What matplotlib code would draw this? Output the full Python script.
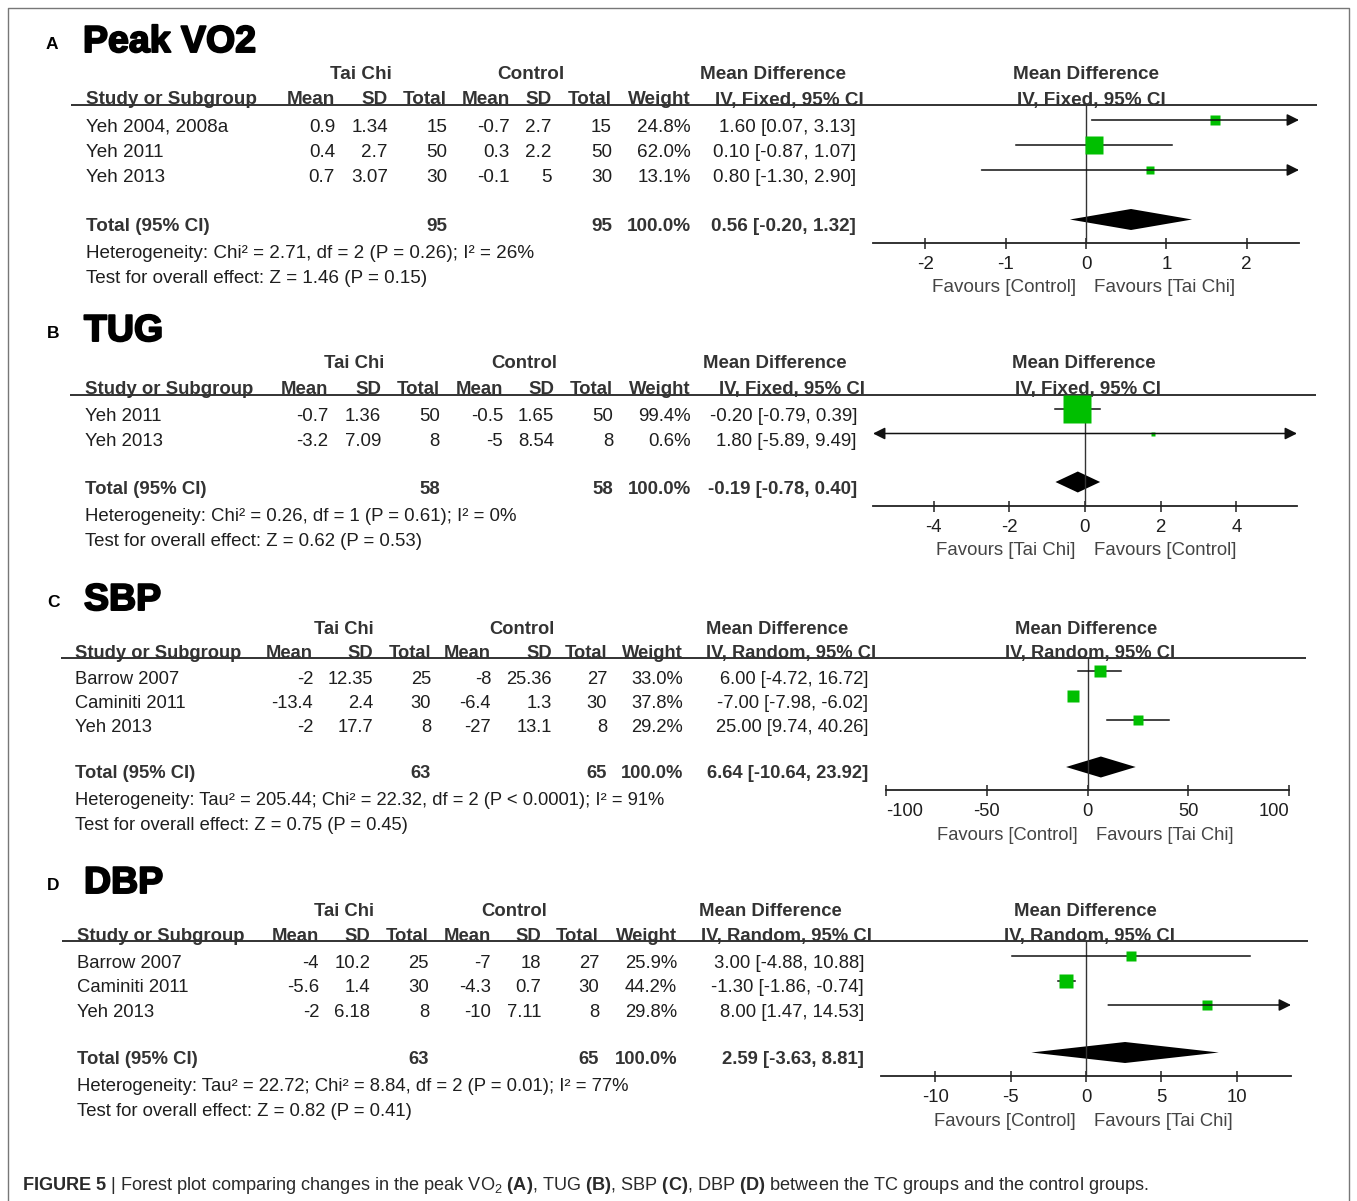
import matplotlib.pyplot as plt
import matplotlib.patheffects as pe

plt.rcParams['font.family'] = ['Liberation Sans', 'DejaVu Sans']
plt.rcParams['mathtext.fontset'] = 'custom'
plt.rcParams['mathtext.rm'] = 'Liberation Sans'
plt.rcParams['mathtext.bf'] = 'Liberation Sans:bold'
plt.rcParams['mathtext.it'] = 'Liberation Sans:italic'

W, H = 1357, 1201
PX = 0.72          # points per pixel at dpi=100
TXT = '#1e1e1e'
HDR = '#333333'
GREEN = '#00bf00'

# ---------------- data ----------------
# A: Peak VO2
a_studies = ['Yeh 2004, 2008a', 'Yeh 2011', 'Yeh 2013']
a_tc_mean = [0.9, 0.4, 0.7]
a_tc_sd = [1.34, 2.7, 3.07]
a_tc_n = [15, 50, 30]
a_c_mean = [-0.7, 0.3, -0.1]
a_c_sd = [2.7, 2.2, 5]
a_c_n = [15, 50, 30]
a_weight = [24.8, 62.0, 13.1]
a_md = [1.60, 0.10, 0.80]
a_lo = [0.07, -0.87, -1.30]
a_hi = [3.13, 1.07, 2.90]
a_total = [0.56, -0.20, 1.32]
a_ticks = [-2, -1, 0, 1, 2]
a_het = 'Heterogeneity: Chi² = 2.71, df = 2 (P = 0.26); I² = 26%'
a_test = 'Test for overall effect: Z = 1.46 (P = 0.15)'

# B: TUG
b_studies = ['Yeh 2011', 'Yeh 2013']
b_tc_mean = [-0.7, -3.2]
b_tc_sd = [1.36, 7.09]
b_tc_n = [50, 8]
b_c_mean = [-0.5, -5]
b_c_sd = [1.65, 8.54]
b_c_n = [50, 8]
b_weight = [99.4, 0.6]
b_md = [-0.20, 1.80]
b_lo = [-0.79, -5.89]
b_hi = [0.39, 9.49]
b_total = [-0.19, -0.78, 0.40]
b_ticks = [-4, -2, 0, 2, 4]
b_het = 'Heterogeneity: Chi² = 0.26, df = 1 (P = 0.61); I² = 0%'
b_test = 'Test for overall effect: Z = 0.62 (P = 0.53)'

# C: SBP
c_studies = ['Barrow 2007', 'Caminiti 2011', 'Yeh 2013']
c_tc_mean = [-2, -13.4, -2]
c_tc_sd = [12.35, 2.4, 17.7]
c_tc_n = [25, 30, 8]
c_c_mean = [-8, -6.4, -27]
c_c_sd = [25.36, 1.3, 13.1]
c_c_n = [27, 30, 8]
c_weight = [33.0, 37.8, 29.2]
c_md = [6.00, -7.00, 25.00]
c_lo = [-4.72, -7.98, 9.74]
c_hi = [16.72, -6.02, 40.26]
c_total = [6.64, -10.64, 23.92]
c_ticks = [-100, -50, 0, 50, 100]
c_het = 'Heterogeneity: Tau² = 205.44; Chi² = 22.32, df = 2 (P < 0.0001); I² = 91%'
c_test = 'Test for overall effect: Z = 0.75 (P = 0.45)'

# D: DBP
d_studies = ['Barrow 2007', 'Caminiti 2011', 'Yeh 2013']
d_tc_mean = [-4, -5.6, -2]
d_tc_sd = [10.2, 1.4, 6.18]
d_tc_n = [25, 30, 8]
d_c_mean = [-7, -4.3, -10]
d_c_sd = [18, 0.7, 7.11]
d_c_n = [27, 30, 8]
d_weight = [25.9, 44.2, 29.8]
d_md = [3.00, -1.30, 8.00]
d_lo = [-4.88, -1.86, 1.47]
d_hi = [10.88, -0.74, 14.53]
d_total = [2.59, -3.63, 8.81]
d_ticks = [-10, -5, 0, 5, 10]
d_het = 'Heterogeneity: Tau² = 22.72; Chi² = 8.84, df = 2 (P = 0.01); I² = 77%'
d_test = 'Test for overall effect: Z = 0.82 (P = 0.41)'

total_weight = '100.0%'

# ---------------- layout (pixels) ----------------
panels = [
    dict(label='A', title='Peak VO2', method='Fixed', top=39, lab_x=46, title_x=83, fs=13.6,
         studies=a_studies, tcm=a_tc_mean, tcs=a_tc_sd, tcn=a_tc_n, cm=a_c_mean, cs=a_c_sd, cn=a_c_n,
         w=a_weight, md=a_md, lo=a_lo, hi=a_hi, tot=a_total, ticks=a_ticks, het=a_het, test=a_test,
         hdr=(72, 97.5), rule=105, rule_x=(71, 1317), study_x=86,
         cols=[335, 388, 447, 510, 552, 612, 691, 856],
         tc_cx=361, c_cx=531, md_cx=773, fp_md_cx=1086, fp_iv_cx=1091,
         rows0=125, gap=25, tot_y=224, het_y=251.5, test_y=276,
         fx=(873, 1299), xr=2.65, axis_y=243, k=1.52, fav=('Favours [Control]', 'Favours [Tai Chi]')),
    dict(label='B', title='TUG', method='Fixed', top=328, lab_x=47, title_x=84, fs=13.4,
         studies=b_studies, tcm=b_tc_mean, tcs=b_tc_sd, tcn=b_tc_n, cm=b_c_mean, cs=b_c_sd, cn=b_c_n,
         w=b_weight, md=b_md, lo=b_lo, hi=b_hi, tot=b_total, ticks=b_ticks, het=b_het, test=b_test,
         hdr=(361.5, 387), rule=395, rule_x=(70, 1316), study_x=85,
         cols=[328, 381, 440, 503, 554, 613, 691, 857],
         tc_cx=354, c_cx=524, md_cx=775, fp_md_cx=1084, fp_iv_cx=1088,
         rows0=414, gap=24.5, tot_y=486.5, het_y=514, test_y=539,
         fx=(873, 1297), xr=5.6, axis_y=506, k=1.74, fav=('Favours [Tai Chi]', 'Favours [Control]')),
    dict(label='C', title='SBP', method='Random', top=597, lab_x=47, title_x=84, fs=13.2,
         studies=c_studies, tcm=c_tc_mean, tcs=c_tc_sd, tcn=c_tc_n, cm=c_c_mean, cs=c_c_sd, cn=c_c_n,
         w=c_weight, md=c_md, lo=c_lo, hi=c_hi, tot=c_total, ticks=c_ticks, het=c_het, test=c_test,
         hdr=(626.5, 651), rule=657.5, rule_x=(61, 1306), study_x=75,
         cols=[313, 373, 431, 491, 552, 607, 683, 868],
         tc_cx=344, c_cx=522, md_cx=777, fp_md_cx=1086, fp_iv_cx=1090,
         rows0=676.5, gap=24.5, tot_y=771.5, het_y=798, test_y=823,
         fx=(886, 1289), xr=100, axis_y=790, k=1.44, fav=('Favours [Control]', 'Favours [Tai Chi]')),
    dict(label='D', title='DBP', method='Random', top=880, lab_x=47, title_x=84, fs=13.3,
         studies=d_studies, tcm=d_tc_mean, tcs=d_tc_sd, tcn=d_tc_n, cm=d_c_mean, cs=d_c_sd, cn=d_c_n,
         w=d_weight, md=d_md, lo=d_lo, hi=d_hi, tot=d_total, ticks=d_ticks, het=d_het, test=d_test,
         hdr=(908.5, 934), rule=941, rule_x=(62, 1308), study_x=77,
         cols=[319, 370, 429, 491, 541, 599, 677, 864],
         tc_cx=344, c_cx=514, md_cx=770, fp_md_cx=1085, fp_iv_cx=1089,
         rows0=961, gap=24.5, tot_y=1057, het_y=1084, test_y=1109,
         fx=(881, 1291), xr=13.6, axis_y=1076, k=1.40, fav=('Favours [Control]', 'Favours [Tai Chi]')),
]

fig = plt.figure(figsize=(W / 100, H / 100), dpi=100)
bg = fig.add_axes([0, 0, 1, 1])
bg.set_xlim(0, W)
bg.set_ylim(H, 0)
bg.axis('off')


def T(x, y, s, fs, ha='left', bold=False, color=TXT):
    # y is the visual middle of the text line
    bg.text(x, y + 7, s, ha=ha, va='baseline', fontsize=fs,
            fontweight='bold' if bold else 'normal', color=color)


def fmt(v):
    return f'{v:g}'


def ci(m, l, h):
    return f'{m:.2f} [{l:.2f}, {h:.2f}]'


for p in panels:
    fs = p['fs']
    # panel label + title
    bg.text(p['lab_x'], p['top'] + 10, p['label'], fontsize=12.5, fontweight='bold', color='black')
    bg.text(p['title_x'], p['top'] + 13, p['title'], fontsize=27, fontweight='bold', color='black',
            path_effects=[pe.withStroke(linewidth=1.4, foreground='black')])

    y1, y2 = p['hdr']
    cols = p['cols']
    iv = f'IV, {p["method"]}, 95% CI'
    T(p['tc_cx'], y1, 'Tai Chi', fs, 'center', True, HDR)
    T(p['c_cx'], y1, 'Control', fs, 'center', True, HDR)
    T(p['md_cx'], y1, 'Mean Difference', fs, 'center', True, HDR)
    T(p['fp_md_cx'], y1, 'Mean Difference', fs, 'center', True, HDR)
    T(p['study_x'], y2, 'Study or Subgroup', fs, 'left', True, HDR)
    for name, x in zip(['Mean', 'SD', 'Total', 'Mean', 'SD', 'Total', 'Weight'], cols[:7]):
        T(x, y2, name, fs, 'right', True, HDR)
    T(cols[7] + 8, y2, iv, fs, 'right', True, HDR)
    T(p['fp_iv_cx'], y2, iv, fs, 'center', True, HDR)
    bg.plot(p['rule_x'], [p['rule'], p['rule']], color='#222222', lw=1.3, solid_capstyle='butt')

    # study rows
    for i, st in enumerate(p['studies']):
        y = p['rows0'] + i * p['gap']
        T(p['study_x'], y, st, fs)
        vals = [fmt(p['tcm'][i]), fmt(p['tcs'][i]), str(p['tcn'][i]),
                fmt(p['cm'][i]), fmt(p['cs'][i]), str(p['cn'][i]),
                f'{p["w"][i]:.1f}%', ci(p['md'][i], p['lo'][i], p['hi'][i])]
        for v, x in zip(vals, cols):
            T(x, y, v, fs, 'right')

    # total row
    ty = p['tot_y']
    T(p['study_x'], ty, 'Total (95% CI)', fs, bold=True, color=HDR)
    T(cols[2], ty, str(sum(p['tcn'])), fs, 'right', True, HDR)
    T(cols[5], ty, str(sum(p['cn'])), fs, 'right', True, HDR)
    T(cols[6], ty, total_weight, fs, 'right', True, HDR)
    T(cols[7], ty, ci(*p['tot']), fs, 'right', True, HDR)
    T(p['study_x'], p['het_y'], p['het'], fs)
    T(p['study_x'], p['test_y'], p['test'], fs)

    # forest plot
    fx0, fx1 = p['fx']
    ay, ry = p['axis_y'], p['rule']
    ax = fig.add_axes([fx0 / W, 1 - ay / H, (fx1 - fx0) / W, (ay - ry) / H])
    ax.patch.set_alpha(0)
    xr = p['xr']
    ax.set_xlim(-xr, xr)
    ax.set_ylim(ay, ry)
    for s in ['top', 'left', 'right']:
        ax.spines[s].set_visible(False)
    ax.spines['bottom'].set_color('#222222')
    ax.spines['bottom'].set_linewidth(1.3)
    ax.set_yticks([])
    ax.set_xticks(p['ticks'])
    ax.set_xticklabels([fmt(t) for t in p['ticks']])
    ax.tick_params(axis='x', direction='inout', length=11 * PX, width=1.1, pad=5.5,
                   labelsize=fs, labelcolor=TXT, color='#222222')
    # end labels sitting on the axis ends are pulled inward
    labs = ax.get_xticklabels()
    if p['ticks'][0] <= -xr:
        labs[0].set_horizontalalignment('left')
    if p['ticks'][-1] >= xr:
        labs[-1].set_horizontalalignment('right')
    ax.axvline(0, color='#333333', lw=1.0)

    for i in range(len(p['studies'])):
        y = p['rows0'] + i * p['gap'] - 5
        lo, hi, m = p['lo'][i], p['hi'][i], p['md'][i]
        l_cl, h_cl = max(lo, -xr), min(hi, xr)
        if lo < -xr or hi > xr:
            style = '<|-|>' if (lo < -xr and hi > xr) else '-|>'
            start, end = (h_cl, l_cl) if (lo < -xr and hi <= xr) else (l_cl, h_cl)
            ax.annotate('', xy=(end, y), xytext=(start, y),
                        arrowprops=dict(arrowstyle=style, color='#111111', lw=1.1,
                                        mutation_scale=18, shrinkA=0, shrinkB=0))
        else:
            ax.plot([l_cl, h_cl], [y, y], color='#111111', lw=1.1)
        side = max(p['k'] * p['w'][i] ** 0.6, 4)
        ax.plot([m], [y], marker='s', ms=side * PX, color=GREEN, mec='none', ls='none')

    tm, tl, th = p['tot']
    dy = ty - 4.5
    ax.fill([tl, tm, th, tm], [dy, dy - 10.5, dy, dy + 10.5], color='black', lw=0)

    ax.annotate(p['fav'][0], xy=(0, 0), xycoords=('data', 'axes fraction'),
                xytext=(-10 * PX, -45 * PX), textcoords='offset points',
                ha='right', va='center', fontsize=fs, color='#444444')
    ax.annotate(p['fav'][1], xy=(0, 0), xycoords=('data', 'axes fraction'),
                xytext=(8.5 * PX, -45 * PX), textcoords='offset points',
                ha='left', va='center', fontsize=fs, color='#444444')

# frame
bg.plot([8, 8, 1349, 1349], [H, 8, 8, H], color='#777777', lw=1.0)

# caption
bg.text(22, 1190,
        r'$\mathbf{FIGURE\ 5}$ | Forest plot comparing changes in the peak VO$_2$ $\mathbf{(A)}$, '
        r'TUG $\mathbf{(B)}$, SBP $\mathbf{(C)}$, DBP $\mathbf{(D)}$ between the TC groups and the control groups.',
        fontsize=13.1, color='#2a2a2a', va='baseline')

fig.savefig('out.png', dpi=100)
